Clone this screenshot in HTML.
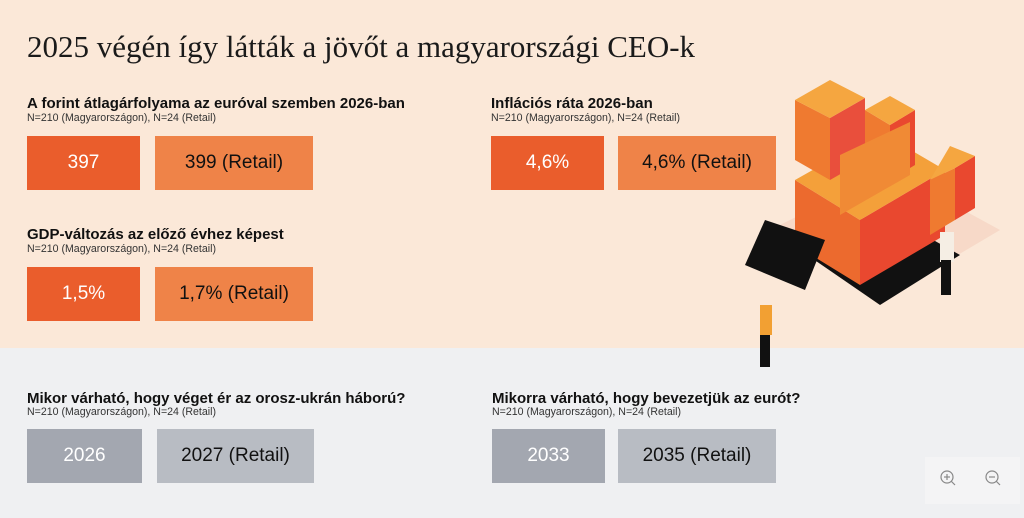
<!DOCTYPE html>
<html><head><meta charset="utf-8"><style>
*{margin:0;padding:0;box-sizing:border-box}
body{width:1024px;height:518px;overflow:hidden;position:relative;background:#eff0f2;font-family:"Liberation Sans",Arial,sans-serif;color:#111}
.top{position:absolute;left:0;top:0;width:1024px;height:348px;background:#fbe8d8}
h1{position:absolute;left:27px;top:29px;font-family:"Liberation Serif",serif;font-weight:normal;font-size:31px;color:#1a1a1a;white-space:nowrap}
.h{position:absolute;font-weight:bold;font-size:15px;white-space:nowrap}
.s{position:absolute;font-size:10.6px;color:#333;white-space:nowrap}
.b{position:absolute;height:54px;display:flex;align-items:center;justify-content:center;font-size:19px}
.o1{background:#ea5d2c;color:#fff}.o2{background:#ef8348;color:#111}
.g1{background:#a3a7b0;color:#fff}.g2{background:#b8bcc3;color:#111}
.zoom{position:absolute;left:925px;top:457px;width:95px;height:47px;background:#f4f4f5}
</style></head><body>
<div class="top"></div>
<h1>2025 végén így látták a jövőt a magyarországi CEO-k</h1>

<div class="h" style="left:27px;top:95px">A forint átlagárfolyama az euróval szemben 2026-ban</div>
<div class="s" style="left:27px;top:112px">N=210 (Magyarországon), N=24 (Retail)</div>
<div class="b o1" style="left:27px;top:136px;width:113px">397</div>
<div class="b o2" style="left:155px;top:136px;width:158px">399 (Retail)</div>

<div class="h" style="left:491px;top:95px">Inflációs ráta 2026-ban</div>
<div class="s" style="left:491px;top:112px">N=210 (Magyarországon), N=24 (Retail)</div>
<div class="b o1" style="left:491px;top:136px;width:113px">4,6%</div>
<div class="b o2" style="left:618px;top:136px;width:158px">4,6% (Retail)</div>

<div class="h" style="left:27px;top:226px">GDP-változás az előző évhez képest</div>
<div class="s" style="left:27px;top:243px">N=210 (Magyarországon), N=24 (Retail)</div>
<div class="b o1" style="left:27px;top:267px;width:113px">1,5%</div>
<div class="b o2" style="left:155px;top:267px;width:158px">1,7% (Retail)</div>

<div class="h" style="left:27px;top:390px">Mikor várható, hogy véget ér az orosz-ukrán háború?</div>
<div class="s" style="left:27px;top:406px">N=210 (Magyarországon), N=24 (Retail)</div>
<div class="b g1" style="left:27px;top:429px;width:115px">2026</div>
<div class="b g2" style="left:157px;top:429px;width:157px">2027 (Retail)</div>

<div class="h" style="left:492px;top:390px">Mikorra várható, hogy bevezetjük az eurót?</div>
<div class="s" style="left:492px;top:406px">N=210 (Magyarországon), N=24 (Retail)</div>
<div class="b g1" style="left:492px;top:429px;width:113px">2033</div>
<div class="b g2" style="left:618px;top:429px;width:158px">2035 (Retail)</div>

<svg style="position:absolute;left:730px;top:60px" width="294" height="315" viewBox="0 0 294 315">
<polygon points="40,170 160,235 270,170 160,110" fill="#f3c9b8" opacity=".5"/>
<polygon points="70,190 150,245 230,195 150,150" fill="#111"/>
<polygon points="65,120 65,185 130,225 130,160" fill="#ec6a2e"/>
<polygon points="130,160 130,225 215,175 215,110" fill="#e9482f"/>
<polygon points="65,120 130,160 215,110 150,72" fill="#f4a03a"/>
<polygon points="65,40 65,100 100,120 100,58" fill="#ef7a30"/>
<polygon points="100,58 100,120 135,100 135,38" fill="#e94f3c"/>
<polygon points="65,40 100,58 135,38 100,20" fill="#f5a640"/>
<polygon points="135,50 135,105 160,120 160,65" fill="#ef7a30"/>
<polygon points="160,65 160,120 185,105 185,50" fill="#e9482f"/>
<polygon points="135,50 160,65 185,50 160,36" fill="#f5a640"/>
<polygon points="200,120 200,175 225,160 225,108" fill="#ef7a30"/>
<polygon points="225,108 225,160 245,148 245,96" fill="#e9482f"/>
<polygon points="200,120 225,108 245,96 220,86" fill="#f5a640"/>
<polygon points="110,95 110,155 180,115 180,62" fill="#f08a35"/>
<polygon points="15,205 75,230 95,180 35,160" fill="#111"/>
<rect x="30" y="245" width="12" height="30" fill="#f2a033"/>
<rect x="30" y="275" width="10" height="32" fill="#111"/>
<rect x="210" y="172" width="14" height="30" fill="#f5eee4"/>
<rect x="211" y="200" width="10" height="35" fill="#111"/>
</svg>

<div class="zoom">
<svg width="95" height="47">
<g fill="none" stroke="#888" stroke-width="1.2"><circle cx="22" cy="20" r="6"/><line x1="26" y1="24" x2="30" y2="28"/><line x1="19" y1="20" x2="25" y2="20"/><line x1="22" y1="17" x2="22" y2="23"/>
<circle cx="67" cy="20" r="6"/><line x1="71" y1="24" x2="75" y2="28"/><line x1="64" y1="20" x2="70" y2="20"/></g></svg>
</div>
</body></html>
